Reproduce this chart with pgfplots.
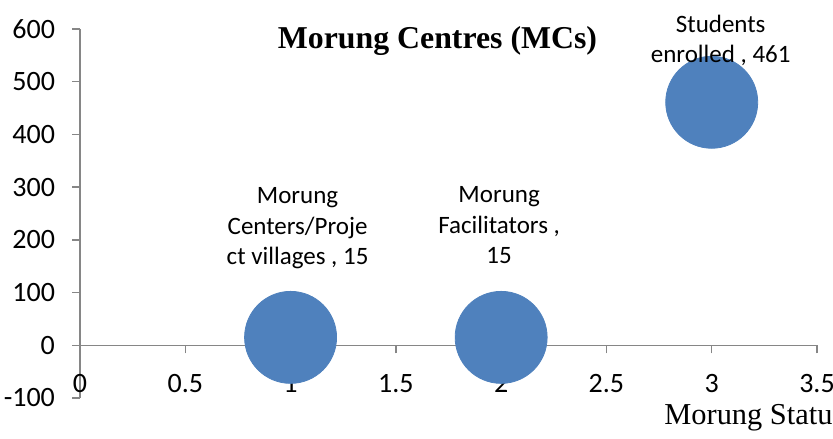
\documentclass[border=0pt]{standalone}
\usepackage{pgfplots}
\pgfplotsset{compat=1.18}
\usepackage{fontspec}
\setmainfont{Carlito}
\newfontfamily\timesf{Liberation Serif}
\definecolor{bubble}{RGB}{79,129,189}
\definecolor{axgray}{RGB}{134,134,134}
\begin{document}
\begin{tikzpicture}
\begin{axis}[
  at={(40pt,20pt)}, anchor=south west,
  scale only axis, width=368.5pt, height=184.5pt,
  xmin=0, xmax=3.5, ymin=-100, ymax=600,
  axis x line=middle, axis y line=left,
  axis line style={-, draw=axgray, line width=0.7pt},
  xtick={0,0.5,...,3.5}, ytick={-100,0,...,600},
  tick align=outside, major tick length=4pt,
  tick style={draw=axgray, line width=0.7pt},
  xticklabels={0,0.5,1,1.5,2,2.5,3,3.5},
  /pgf/number format/assume math mode=true,
  tick label style={font=\fontsize{14}{16}\selectfont, text=black},
  x tick label style={anchor=north, yshift=-7pt},
  y tick label style={xshift=-5pt},
  clip=false,
  every node near coord/.append style={anchor=south, inner sep=0pt, align=center, text=black, font=\fontsize{12.5}{15.25}\selectfont},
]
\addplot[only marks, color=bubble, mark=*, mark size=23pt, mark options={fill=bubble, draw=bubble},
  nodes near coords={Morung\\Centers/Proje\\ct villages , 15},
  every node near coord/.append style={xshift=3.5pt, yshift=34pt}]
  coordinates {(1,15)};
\addplot[only marks, color=bubble, mark=*, mark size=23pt, mark options={fill=bubble, draw=bubble},
  nodes near coords={Morung\\Facilitators ,\\15},
  every node near coord/.append style={xshift=-1pt, yshift=36.5pt}]
  coordinates {(2,15)};
\addplot[only marks, color=bubble, mark=*, mark size=23pt, mark options={fill=bubble, draw=bubble},
  nodes near coords={Students\\enrolled , 461},
  every node near coord/.append style={xshift=4.5pt, yshift=18pt}]
  coordinates {(3,461)};
\node[anchor=north, yshift=-11pt, font=\fontsize{14}{16}\selectfont] at (axis cs:0,0) {0};
\end{axis}
\node[anchor=base, inner sep=0pt, font=\timesf\bfseries\fontsize{15.9}{18}\selectfont] at (218.75pt,194.5pt) {Morung Centres (MCs)};
\node[anchor=base west, inner sep=0pt, font=\timesf\fontsize{15.2}{17}\selectfont] at (332pt,6.5pt) {Morung Statu};
\pgfresetboundingbox
\useasboundingbox (0,0) rectangle (416.5pt,219pt);
\end{tikzpicture}
\end{document}
